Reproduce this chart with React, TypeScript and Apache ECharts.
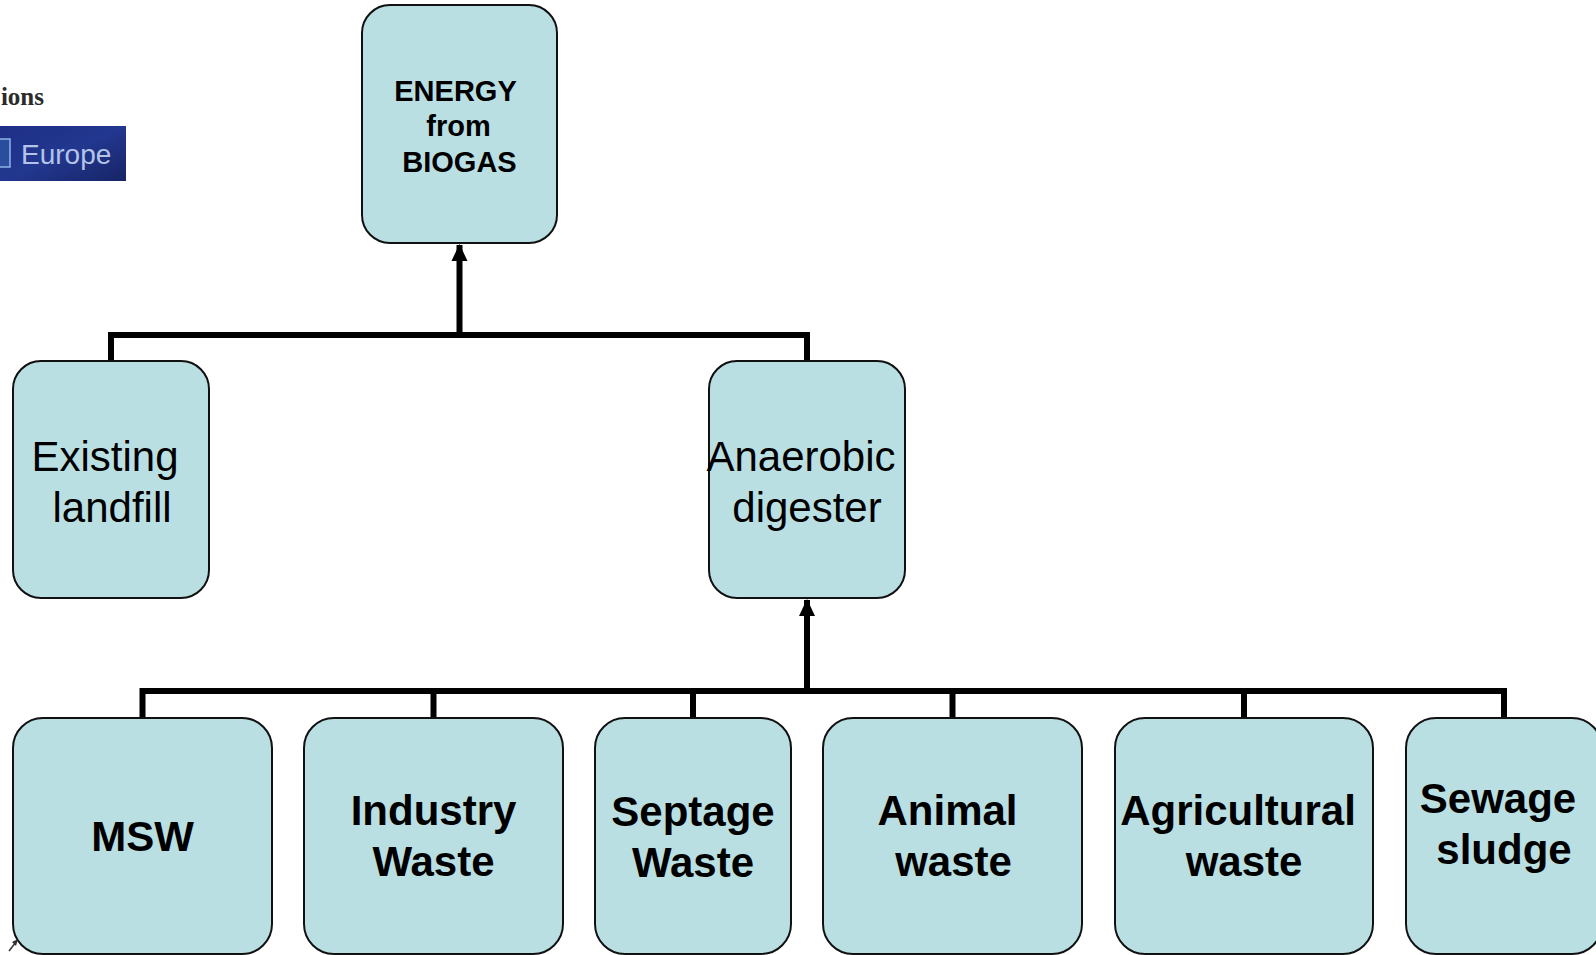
import React, { useEffect, useRef } from "react";
import * as echarts from "echarts";

// ---- content ----
const topLabels = ["ENERGY\nfrom\nBIOGAS"];
const midLabels = ["Existing\nlandfill", "Anaerobic\ndigester"];
const bottomLabels = ["MSW", "Industry\nWaste", "Septage\nWaste", "Animal\nwaste", "Agricultural\nwaste", "Sewage\nsludge"];
const sideTexts = ["ions", "Europe"];

// ---- layout (pixels) ----
const topBox = { x: 362, y: 5, w: 195, h: 238 };
const topLineDx = [[-4, -1, 0]];
const midX = [13, 709];
const midW = [196, 196];
const midY = 361;
const midH = 237;
const midLineDx = [[-6, 1], [-6, 0]];
const botX = [13, 304, 595, 823, 1115, 1406];
const botW = [259, 259, 196, 259, 258, 196];
const botY = 718;
const botH = 236;
const botTextDy = [0, 0, 1, 0, 0, -12];
const botLineDx = [[0], [0, 0], [0, 0], [-5, 1], [-6, 0], [-6, 0]];

const FILL = "#badfe3";
const STROKE = "#111111";
const SANS = "'Liberation Sans', Arial, Helvetica, sans-serif";
const LINE_W = 6;

function boxEl(x: number, y: number, w: number, h: number, r: number) {
  return {
    type: "rect",
    shape: { x, y, width: w, height: h, r },
    style: { fill: FILL, stroke: STROKE, lineWidth: 2 },
    z: 10,
  };
}

function textLines(label: string, cx: number, cy: number, font: string, lh: number, dxs: number[]) {
  const lines = label.split("\n");
  const n = lines.length;
  return lines.map((t, i) => ({
    type: "text",
    x: cx + (dxs[i] || 0),
    y: cy + (i - (n - 1) / 2) * lh,
    z: 20,
    style: {
      text: t,
      font,
      fill: "#000000",
      textAlign: "center",
      textVerticalAlign: "middle",
    },
  }));
}

function line(points: number[][]) {
  return {
    type: "polyline",
    shape: { points },
    style: { stroke: "#000000", lineWidth: LINE_W, fill: null, lineJoin: "miter", lineCap: "butt" },
    z: 5,
  };
}

function arrowHead(cx: number, tipY: number) {
  return {
    type: "polygon",
    shape: { points: [[cx, tipY], [cx - 8, tipY + 17], [cx + 8, tipY + 17]] },
    style: { fill: "#000000" },
    z: 6,
  };
}

function buildGraphics() {
  const els: any[] = [];

  // top-left fragments
  els.push({
    type: "text",
    x: 44,
    y: 96,
    style: {
      text: sideTexts[0],
      font: "bold 25px 'Liberation Serif', 'DejaVu Serif', serif",
      fill: "#2b2b2b",
      textAlign: "right",
      textVerticalAlign: "middle",
    },
  });
  els.push({
    type: "rect",
    shape: { x: 0, y: 126, width: 126, height: 55 },
    style: {
      fill: new echarts.graphic.LinearGradient(0, 0, 1, 1, [
        { offset: 0, color: "#1e2f86" },
        { offset: 0.5, color: "#22378f" },
        { offset: 1, color: "#172466" },
      ]),
    },
  });
  els.push({
    type: "rect",
    shape: { x: -8, y: 139, width: 18, height: 28 },
    style: { fill: "#2a4d9e", stroke: "#8fb2e6", lineWidth: 1.5 },
  });
  els.push({
    type: "text",
    x: 21,
    y: 154,
    style: {
      text: sideTexts[1],
      font: "28px 'Liberation Sans', Arial, sans-serif",
      fill: "#b4c4e8",
      textAlign: "left",
      textVerticalAlign: "middle",
    },
  });

  // top box
  const tcx = topBox.x + topBox.w / 2;
  els.push(boxEl(topBox.x, topBox.y, topBox.w, topBox.h, 28));
  els.push(...textLines(topLabels[0], tcx, topBox.y + topBox.h / 2 + 2, `bold 29px ${SANS}`, 35.5, topLineDx[0]));

  // middle boxes
  const midCx = midX.map((x, i) => x + midW[i] / 2);
  midLabels.forEach((lab, i) => {
    els.push(boxEl(midX[i], midY, midW[i], midH, 28));
    els.push(...textLines(lab, midCx[i], midY + midH / 2 + 2, `42px ${SANS}`, 51, midLineDx[i]));
  });

  // connector top level
  const y1 = 335;
  els.push(line([[tcx, topBox.y + topBox.h + 2], [tcx, y1]]));
  els.push(arrowHead(tcx, topBox.y + topBox.h + 1));
  els.push(line([[midCx[0], midY], [midCx[0], y1], [midCx[1], y1], [midCx[1], midY]]));

  // bottom boxes
  const botCx = botX.map((x, i) => x + botW[i] / 2);
  bottomLabels.forEach((lab, i) => {
    els.push(boxEl(botX[i], botY, botW[i], botH, 30));
    els.push(...textLines(lab, botCx[i], botY + botH / 2 + botTextDy[i], `bold 42px ${SANS}`, 51, botLineDx[i]));
  });

  // connector bottom level
  const y2 = 691;
  const dcx = midCx[1];
  els.push(line([[dcx, midY + midH + 2], [dcx, y2]]));
  els.push(arrowHead(dcx, midY + midH + 1));
  els.push(line([[botCx[0], botY], [botCx[0], y2], [botCx[botCx.length - 1], y2], [botCx[botCx.length - 1], botY]]));
  botCx.slice(1, -1).forEach((cx) => {
    els.push(line([[cx, y2], [cx, botY]]));
  });

  // tiny arrow mark bottom-left
  els.push({
    type: "line",
    shape: { x1: 9, y1: 951, x2: 16, y2: 942 },
    style: { stroke: "#333", lineWidth: 1.5 },
    z: 30,
  });
  els.push({
    type: "polygon",
    shape: { points: [[18, 939], [12, 942], [16, 946]] },
    style: { fill: "#333" },
    z: 30,
  });

  return els;
}

export default function App() {
  const ref = useRef<HTMLDivElement>(null);
  useEffect(() => {
    document.body.style.margin = "0";
    if (!ref.current) return;
    const chart = echarts.init(ref.current, null, { renderer: "svg" });
    chart.setOption({
      animation: false,
      backgroundColor: "#ffffff",
      graphic: { elements: buildGraphics() },
    });
    return () => chart.dispose();
  }, []);
  return (
    <div
      ref={ref}
      style={{ position: "fixed", left: 0, top: 0, width: 1596, height: 955, background: "#fff" }}
    />
  );
}
